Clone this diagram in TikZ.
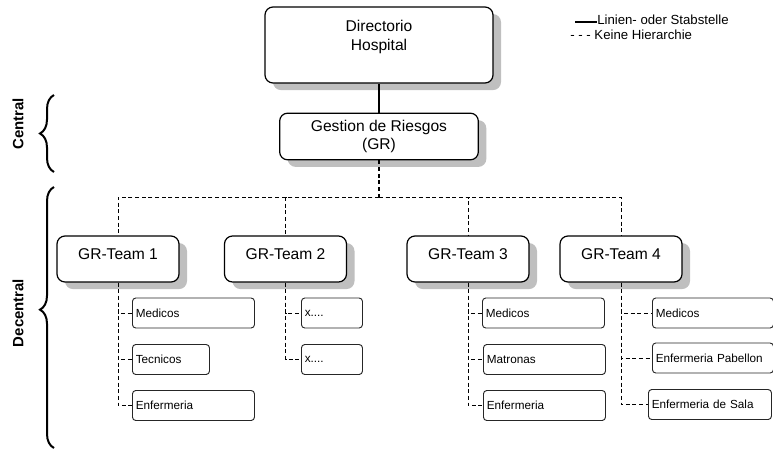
\documentclass[tikz,border=0pt]{standalone}
\usepackage{fontspec}
\setmainfont{Liberation Sans}
\usetikzlibrary{shadows,decorations.pathreplacing}

\tikzset{
  chef/.style={draw, line width=0.9pt, rounded corners=6pt, fill=white, align=center,
    font=\fontsize{11.7}{14}\selectfont,
    drop shadow={shadow xshift=6pt, shadow yshift=-5.3pt, fill=black!25, opacity=1}},
  team/.style={chef, minimum width=91.5pt, minimum height=34.5pt, text height=8pt, text depth=8pt},
  unit/.style={draw=black!85, line width=0.7pt, rounded corners=2.5pt, fill=white, anchor=west,
    font=\fontsize{8.8}{10}\selectfont, inner xsep=2.5pt, minimum height=22.5pt,
    text width=#1*0.75pt-5pt, align=left},
  linie/.style={line width=0.8pt},
  keine/.style={line width=0.6pt, dash pattern=on 3pt off 2pt},
  klammer/.style={decorate, decoration={brace, amplitude=10.5pt, aspect=#1}, line width=1.5pt},
  klammer/.default=0.5,
  seite/.style={rotate=90, font=\bfseries\fontsize{11.2}{13}\selectfont},
  legende/.style={anchor=base west, inner sep=0pt, font=\fontsize{9.9}{12}\selectfont}
}

\begin{document}
\begin{tikzpicture}[x=0.75pt, y=-0.75pt]
  \useasboundingbox (0,0) rectangle (773,450);
  % oberste Ebene
  \node[chef, minimum width=171pt, minimum height=57pt] (dir) at (379,45) {Directorio\\Hospital\\\mbox{}};
  \node[chef, minimum width=149pt, minimum height=35pt] (gr) at (379,136.5) {Gestion de Riesgos\\(GR)};
  \draw[linie] (dir) -- (gr);
  % Teams
  \node[team] (t1) at (118,259) {GR-Team 1};
  \node[team] (t2) at (285.5,259) {GR-Team 2};
  \node[team] (t3) at (468,259) {GR-Team 3};
  \node[team] (t4) at (621,259) {GR-Team 4};
  \coordinate (bus) at (379,197);
  \draw[keine, line width=1pt] (gr) -- (bus);
  \foreach \t in {t1,t2,t3,t4}
    \draw[keine] (bus) -| (\t);
  % Stellen unter den Teams
  \node[unit=122] (t1a) at (132,313) {Medicos};
  \node[unit=77] (t1b) at (132,359.5) {Tecnicos};
  \node[unit=122] (t1c) at (132,405.5) {Enfermeria};
  \node[unit=61] (t2a) at (301,313) {x....};
  \node[unit=61] (t2b) at (301,359.5) {x....};
  \node[unit=122] (t3a) at (482,313) {Medicos};
  \node[unit=122] (t3b) at (483,359.5) {Matronas};
  \node[unit=122] (t3c) at (483,405.5) {Enfermeria};
  \node[unit=121] (t4a) at (652,313) {Medicos};
  \node[unit=121] (t4b) at (652,358) {Enfermeria Pabellon};
  \node[unit=123] (t4c) at (648,404.5) {Enfermeria de Sala};
  \foreach \t/\s in {t1/t1a,t1/t1b,t1/t1c,t2/t2a,t2/t2b,t3/t3a,t3/t3b,t3/t3c,t4/t4a,t4/t4b,t4/t4c}
    \draw[keine] (\t) |- (\s);
  % Klammern links
  \draw[klammer] (54,172) -- (54,95);
  \draw[klammer=0.53] (54,448) -- (54,187);
  \node[seite] (zentral) at (18,124) {Central};
  \node[seite] (dezentral) at (18,313) {Decentral};
  % Legende
  \node[legende] (leg1) at (597,24) {Linien- oder Stabstelle};
  \node[legende] (leg2) at (570,39) {- - - Keine Hierarchie};
  \coordinate (legstart) at (575,22);
  \draw[linie] (legstart) -- (legstart -| leg1.west);
\end{tikzpicture}
\end{document}
